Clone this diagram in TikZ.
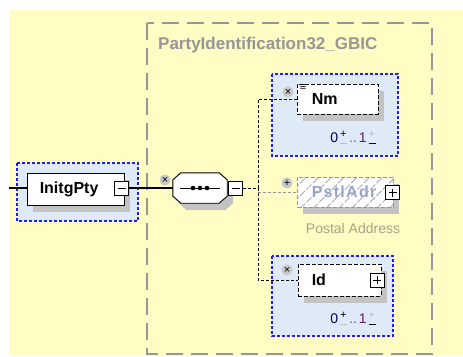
\documentclass[tikz,border=0pt]{standalone}
\usepackage{fontspec}
\setmainfont{Liberation Sans}
\usetikzlibrary{shadows,patterns.meta}
\definecolor{fundo}{RGB}{255,252,196}
\definecolor{azul}{RGB}{30,30,250}
\definecolor{azulclaro}{RGB}{222,234,248}
\definecolor{sombra}{RGB}{195,195,195}
\definecolor{cinza}{RGB}{150,150,150}
\definecolor{cinzatitulo}{RGB}{150,150,150}
\definecolor{cinzamarca}{RGB}{200,200,200}
\definecolor{cinzaclaro}{RGB}{190,190,190}
\definecolor{cinzahachura}{RGB}{170,170,170}
\definecolor{textoadr}{RGB}{150,165,200}
\definecolor{textoobs}{RGB}{175,160,130}
\definecolor{zero}{RGB}{0,0,100}
\definecolor{pontos}{RGB}{90,90,170}
\definecolor{um}{RGB}{100,30,100}
\newcommand{\sinais}[2]{\makebox[11pt]{\rlap{\raisebox{4.5pt}{\textcolor{#1}{\fontsize{11}{11}\selectfont+}}}\raisebox{-2pt}{\textcolor{#2}{\rule{7pt}{1.4pt}}}}}
\begin{document}
\begin{tikzpicture}[x=1pt,y=-1pt, %1 unidade = 1pt, eixo y para baixo
	caixa/.style={draw=azul, dash pattern=on 3pt off 2pt, line width=1.1pt, fill=azulclaro},
	elem/.style={draw, fill=white, line width=0.9pt, inner sep=0pt, drop shadow={shadow xshift=6pt, shadow yshift=-7pt, fill=sombra, opacity=1}},
	nome/.style={font=\fontsize{16}{18}\selectfont\bfseries, inner sep=0pt, anchor=west},
	menos/.style={draw, fill=white, line width=0.9pt, minimum size=14pt, inner sep=0pt, path picture={\draw[line width=0.9pt] ([xshift=3pt]path picture bounding box.west) -- ([xshift=-3pt]path picture bounding box.east);}},
	mais/.style={draw, fill=white, line width=0.9pt, minimum size=14pt, inner sep=0pt, path picture={\draw[line width=0.9pt] ([xshift=3pt]path picture bounding box.west) -- ([xshift=-3pt]path picture bounding box.east) ([yshift=3pt]path picture bounding box.south) -- ([yshift=-3pt]path picture bounding box.north);}},
	marca/.style={circle, fill=cinzamarca, minimum size=11pt, inner sep=0pt, font=\fontsize{11}{11}\selectfont},
	liga/.style={dash pattern=on 3pt off 2pt, line width=1pt},
	card/.style={font=\fontsize{14}{15}\selectfont, inner sep=0pt}]
	\useasboundingbox (0,0) rectangle (463,356); %Tamanho da figura
	\fill[fundo] (9,10) rectangle (463,356); %Fundo amarelo
	
	%Tipo complexo
	\draw[cinza, line width=1.4pt, dash pattern=on 17pt off 8pt] (147,23) rectangle (432,354);
	\node[anchor=west, text=cinzatitulo, font=\fontsize{17}{20}\selectfont\bfseries, inner sep=0pt] (tipo) at (158,45) {PartyIdentification32\_GBIC};
	
	%Elemento InitgPty
	\draw[caixa] (17,163) rectangle (138,221);
	\node[elem, minimum width=97pt, minimum height=32pt] (initg) at (75.5,189) {};
	\node[nome] (initgtexto) at ([xshift=13pt]initg.west) {InitgPty};
	\node[menos] (initgmenos) at (121.5,188) {};
	
	%Sequencia
	\node[minimum width=54pt, minimum height=30pt, inner sep=0pt] (seq) at (200,188) {};
	\draw[fill=white, line width=0.9pt, drop shadow={shadow xshift=6pt, shadow yshift=-7pt, fill=sombra, opacity=1}] ([xshift=8pt]seq.north west) -- ([xshift=-8pt]seq.north east) -- ([yshift=-7pt]seq.north east) -- ([yshift=7pt]seq.south east) -- ([xshift=-8pt]seq.south east) -- ([xshift=8pt]seq.south west) -- ([yshift=7pt]seq.south west) -- ([yshift=-7pt]seq.north west) -- cycle;
	\draw[line width=0.9pt] ([xshift=7pt]seq.west) -- ([xshift=-7pt]seq.east);
	\foreach \d in {-7,0,7} \fill ([xshift=\d pt]seq.center) circle (2.3);
	\node[menos] (seqmenos) at (235.5,188) {};
	
	%Elemento Nm
	\draw[caixa] (272,74) rectangle (398,156);
	\node[elem, dash pattern=on 4pt off 2pt, minimum width=81pt, minimum height=30pt] (nm) at (337.5,99) {};
	\node[nome] (nmtexto) at ([xshift=15pt]nm.west) {Nm};
	\node[card] (nmcard) at (354,138) {\textcolor{zero}{0}\sinais{black}{cinzaclaro}\textcolor{pontos}{..}\hspace{2pt}\textcolor{um}{1}\sinais{cinzaclaro}{black}};
	
	%Elemento PstlAdr
	\node[elem, draw=cinza, dash pattern=on 4pt off 2pt, preaction={fill=white}, pattern={Lines[angle=45, distance=9pt, line width=0.9pt]}, pattern color=cinzahachura, minimum width=96pt, minimum height=30pt] (adr) at (345,192) {};
	\node[nome, text=textoadr] (adrtexto) at ([xshift=15pt]adr.west) {\addfontfeature{LetterSpace=8}PstlAdr};
	\node[mais] (adrmais) at (392.5,192.5) {};
	\node[text=textoobs, font=\fontsize{14}{16}\selectfont, inner sep=0pt] (adrobs) at (353,228) {Postal Address};
	
	%Elemento Id
	\draw[caixa] (272,256) rectangle (393,336);
	\node[elem, dash pattern=on 4pt off 2pt, minimum width=83pt, minimum height=32pt] (id) at (339.5,280) {};
	\node[nome] (idtexto) at ([xshift=14pt]id.west) {Id};
	\node[mais] (idmais) at (377,280) {};
	\node[card] (idcard) at (354,319) {\textcolor{zero}{0}\sinais{black}{cinzaclaro}\textcolor{pontos}{..}\hspace{2pt}\textcolor{um}{1}\sinais{cinzaclaro}{black}};
	
	%Ligacoes
	\coordinate (entrada) at (9,188);
	\coordinate (garfo) at (258,188);
	\draw[line width=1.2pt] (entrada) -- (entrada -| initg.west);
	\draw[line width=1.2pt] (initgmenos.east) -- (seq.west);
	\draw[liga] (seqmenos.east) -- (garfo);
	\draw[liga] (garfo) |- (nm.west);
	\draw[liga] (garfo) |- (id.west);
	\draw[liga, draw=cinza] (garfo |- adr.west) -- (adr.west);
	
	%Marcas
	\node[marca] (seqmarca) at (165,180) {×};
	\node[marca] (nmmarca) at (288,92) {×};
	\node[marca] (adrmarca) at (287,183) {+};
	\node[marca] (idmarca) at (287,270) {×};
	\node[font=\fontsize{11}{11}\selectfont, inner sep=0pt] (nmicone) at (303,88) {≡};
\end{tikzpicture}
\end{document}
